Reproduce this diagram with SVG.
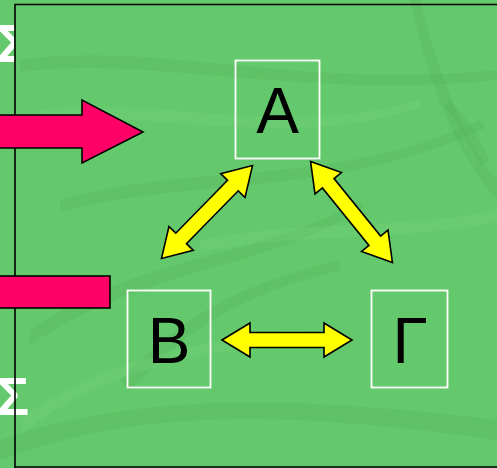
<svg xmlns="http://www.w3.org/2000/svg" width="497" height="468" viewBox="0 0 497 468">
  <style>
    .frame { fill: none; stroke: #000; stroke-width: 1.6; }
    .box { fill: none; stroke: #fff; stroke-width: 1.8; }
    .label { font-family: "Liberation Sans", Arial, sans-serif; font-size: 64px; fill: #000; text-anchor: middle; }
    .sigma { font-family: "Liberation Sans", Arial, sans-serif; font-weight: bold; font-size: 53px; fill: #fff; text-anchor: end; }
    .red { fill: #ff0066; stroke: #000; stroke-width: 1.6; stroke-linejoin: miter; }
    .dbl { fill: #ffff00; stroke: #000; stroke-width: 1.6; stroke-linejoin: miter; }
    .leafD { fill: #4fae57; opacity: 0.25; }
    .leafL { fill: #7ad882; opacity: 0.22; }
  </style>
  <defs>
    <path id="dblArrow" d="M -65 0 L -37 -17 L -37 -7.5 L 37 -7.5 L 37 -17 L 65 0 L 37 17 L 37 7.5 L -37 7.5 L -37 17 Z"/>
    <clipPath id="leftStrip"><rect x="0" y="0" width="14" height="468"/></clipPath>
  </defs>

  <!-- background with faint leaf texture -->
  <rect x="0" y="0" width="497" height="468" fill="#64c96c"/>
  <g id="texture">
    <path class="leafD" d="M 20 60 C 150 40 300 90 497 70 L 497 80 C 300 100 150 55 20 72 Z"/>
    <path class="leafD" d="M 60 200 C 200 160 330 190 480 120 L 485 128 C 330 200 200 175 60 212 Z"/>
    <path class="leafD" d="M 30 330 C 150 250 260 260 360 200 L 364 208 C 260 272 150 265 30 345 Z"/>
    <path class="leafD" d="M 0 440 C 120 400 250 390 497 420 L 497 440 C 250 405 120 415 0 460 Z"/>
    <path class="leafD" d="M 120 380 C 200 300 260 280 340 260 L 340 270 C 260 292 200 312 130 392 Z"/>
    <path class="leafD" d="M 420 0 C 440 80 470 150 497 180 L 497 200 C 460 160 430 90 410 0 Z"/>
    <path class="leafL" d="M 40 110 C 160 95 280 140 420 100 L 420 108 C 280 152 160 108 40 122 Z"/>
    <path class="leafL" d="M 200 240 C 300 220 400 230 497 210 L 497 222 C 400 242 300 232 200 252 Z"/>
    <path class="leafL" d="M 20 420 C 100 360 200 340 300 330 L 300 340 C 200 352 100 372 24 432 Z"/>
    <path class="leafD" d="M 450 100 C 470 120 480 140 490 160 L 480 165 C 470 145 460 125 445 108 Z"/>
  </g>

  <!-- side glyphs -->
  <g id="sigmas">
    <text class="sigma" x="29" y="62" clip-path="url(#leftStrip)">Σ</text>
    <text class="sigma" x="29" y="415">Σ</text>
  </g>

  <!-- frame -->
  <path class="frame" d="M 15 468 L 15 4.5 L 497 4.5"/>
  <line class="frame" x1="15" y1="467" x2="497" y2="467"/>

  <!-- red arrow and bar -->
  <g id="inputArrow">
    <path class="red" d="M -2 115 L 82 115 L 82 100 L 143 132 L 82 163 L 82 148 L -2 148 Z"/>
  </g>
  <g id="inputBar">
    <rect class="red" x="-2" y="276" width="112" height="32"/>
  </g>

  <!-- nodes -->
  <g id="nodeA">
    <rect class="box" x="235.5" y="60.5" width="84" height="98"/>
    <text class="label" x="277.5" y="133">A</text>
  </g>
  <g id="nodeB">
    <rect class="box" x="127.5" y="290.5" width="83" height="97"/>
    <text class="label" x="169" y="363">B</text>
  </g>
  <g id="nodeG">
    <rect class="box" x="371.5" y="290.5" width="76" height="97"/>
    <text class="label" x="410" y="363">Γ</text>
  </g>

  <!-- connectors -->
  <g id="connectors">
    <use href="#dblArrow" class="dbl" transform="translate(207 212) rotate(134.4)"/>
    <use href="#dblArrow" class="dbl" transform="translate(351.5 212) rotate(51)"/>
    <use href="#dblArrow" class="dbl" transform="translate(287 340)"/>
  </g>
</svg>
